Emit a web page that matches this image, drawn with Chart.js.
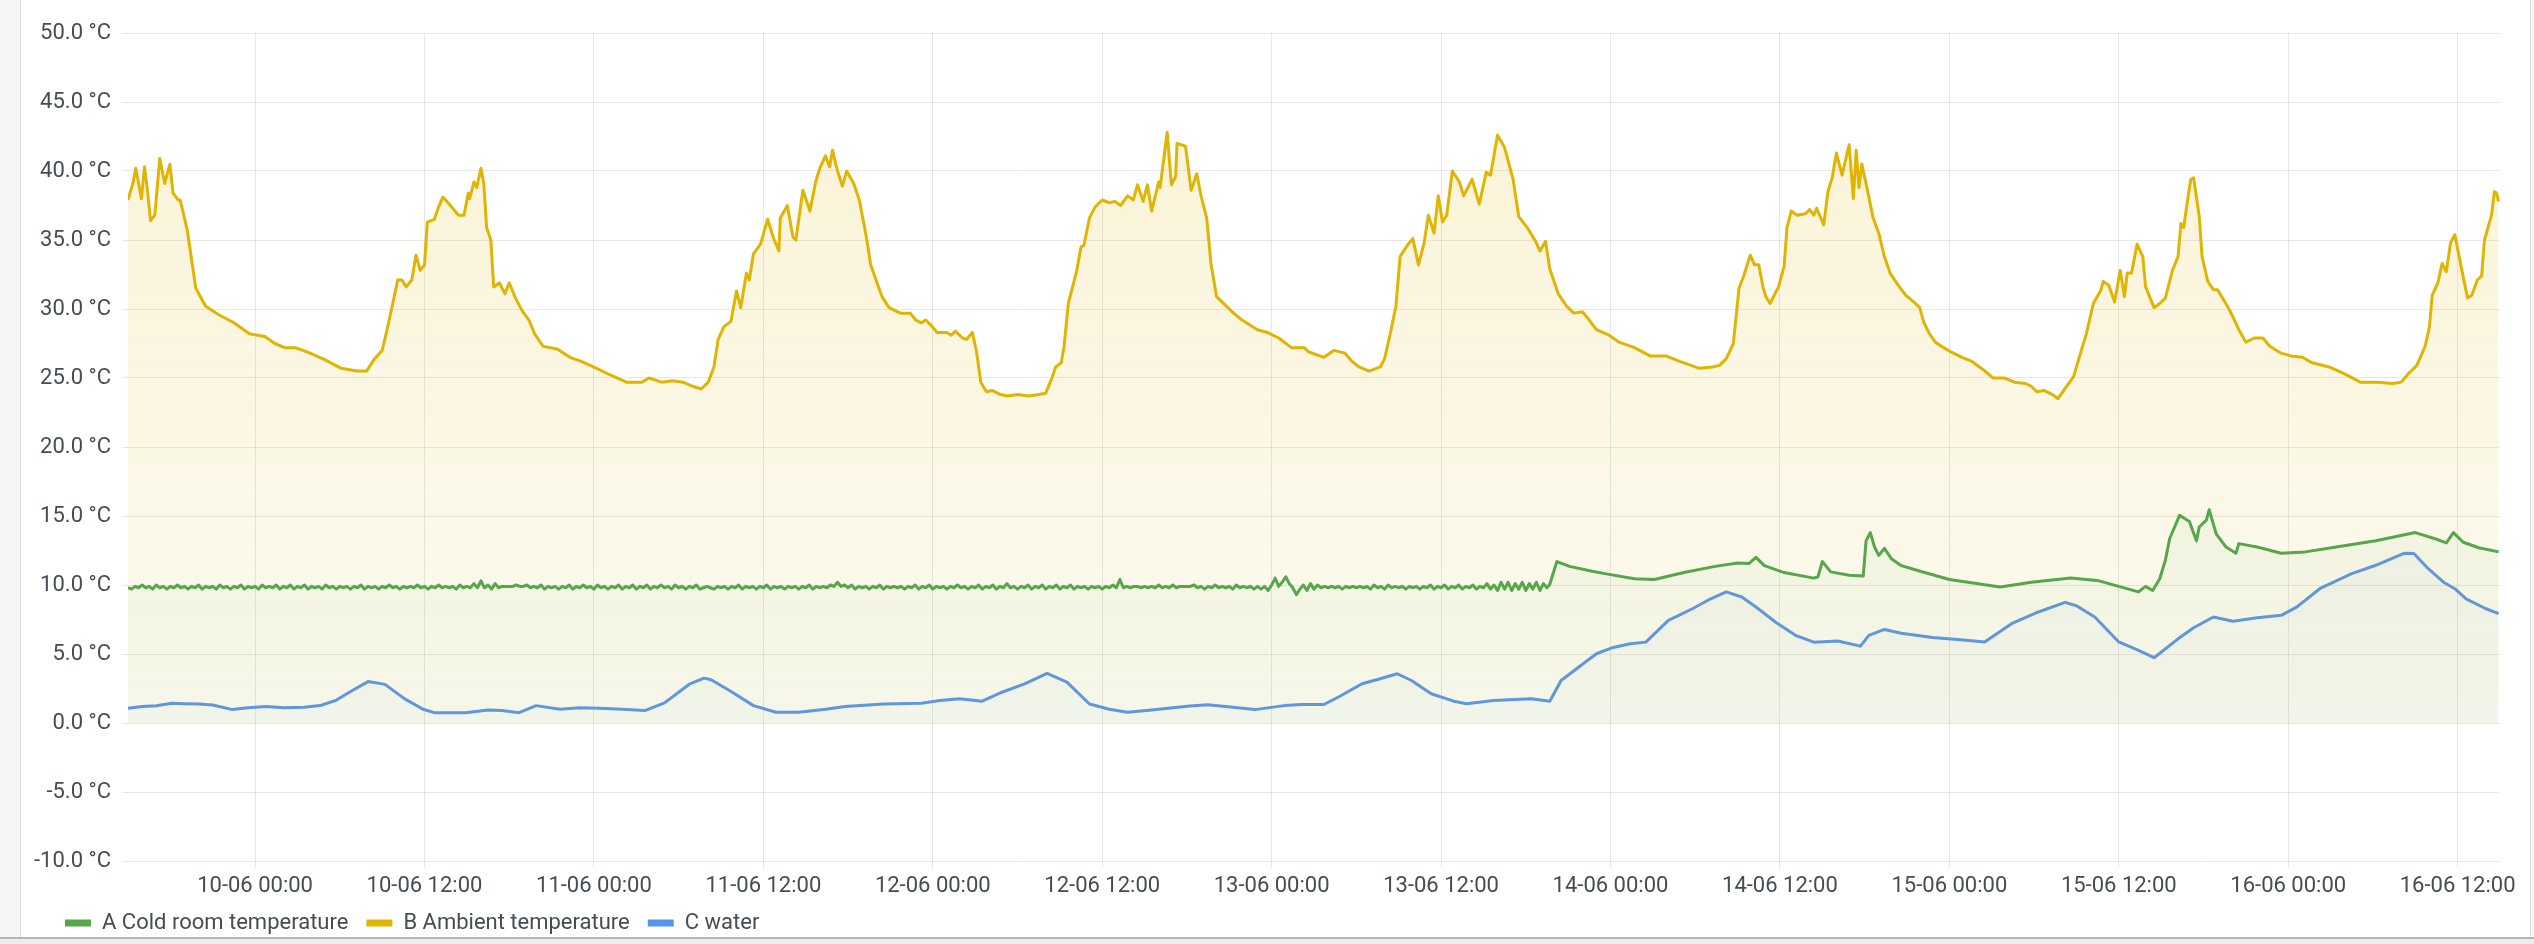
<!DOCTYPE html>
<html>
<head>
<meta charset="utf-8">
<script src="https://cdn.jsdelivr.net/npm/chart.js@4.4.1/dist/chart.umd.min.js"></script>
<style>
html, body { margin: 0; padding: 0; background: #fff; }
body { width: 2534px; height: 944px; position: relative; overflow: hidden; font-family: Roboto, sans-serif; }
.side { position: absolute; left: 0; top: 0; width: 20px; height: 944px; background: #f4f5f5; border-right: 1px solid #dde0e0; }
.edge { position: absolute; left: 2530px; top: 0; width: 4px; height: 944px; background: #f7f7f7; border-left: 1px solid #dde0e0; }
.foot { position: absolute; left: 0; top: 937px; width: 2534px; height: 7px; background: #ececec; border-top: 2px solid #b5b5b5; }
#chart { position: absolute; left: 22px; top: 0; }
</style>
</head>
<body>
<div class="side"></div>
<canvas id="chart" width="2508" height="944"></canvas>
<div class="edge"></div>
<div class="foot"></div>
<script>
// x axis is hours since 09-06 15:00
const tickHours = [9, 21, 33, 45, 57, 69, 81, 93, 105, 117, 129, 141, 153, 165];
const tickLabels = ['10-06 00:00', '10-06 12:00', '11-06 00:00', '11-06 12:00', '12-06 00:00', '12-06 12:00', '13-06 00:00',
    '13-06 12:00', '14-06 00:00', '14-06 12:00', '15-06 00:00', '15-06 12:00', '16-06 00:00', '16-06 12:00'];

// A: cold room, every 15 min until the step on 14-06, then read point by point
const coldStep = 0.25;
const coldEarly = [
    9.8,9.7,9.9,9.8,10.0,9.8,9.9,9.7,10.0,9.8,9.9,9.7,9.9,9.8,10.0,9.8,
    9.9,9.7,9.9,9.8,10.0,9.7,9.9,9.8,9.9,9.7,10.0,9.8,9.9,9.7,9.9,9.8,
    10.0,9.7,9.9,9.8,9.9,9.7,10.0,9.8,9.9,9.8,10.0,9.7,9.9,9.8,10.0,9.7,
    9.9,9.8,10.0,9.7,9.9,9.8,9.9,9.7,10.0,9.8,9.9,9.7,9.9,9.8,9.9,9.7,
    9.9,9.8,10.0,9.7,9.9,9.8,9.9,9.7,9.9,9.8,10.0,9.8,9.9,9.7,9.9,9.8,
    9.9,9.8,10.0,9.8,9.9,9.7,9.9,9.8,10.0,9.8,9.9,9.8,9.9,9.7,10.0,9.8,
    9.9,9.8,10.1,9.8,10.3,9.8,10.0,9.7,10.1,9.8,9.9,9.9,9.9,9.9,10.0,9.9,
    9.9,10.0,9.8,9.9,9.8,10.0,9.7,9.9,9.8,9.9,9.7,9.9,9.8,10.0,9.7,9.9,
    9.8,10.0,9.8,9.9,9.7,10.0,9.8,9.9,9.7,9.9,9.8,10.0,9.7,9.9,9.8,10.0,
    9.7,9.9,9.8,10.0,9.7,9.9,9.8,10.0,9.8,9.9,9.7,10.0,9.8,9.9,9.7,9.9,
    9.8,10.0,9.7,9.8,9.9,9.8,9.7,9.9,9.8,9.9,9.7,9.9,9.8,10.0,9.7,9.9,
    9.8,9.9,9.7,9.9,9.8,10.0,9.7,9.9,9.8,9.9,9.7,9.9,9.8,9.9,9.7,9.9,
    9.8,10.0,9.7,9.9,9.8,9.9,9.8,10.0,9.9,10.2,9.9,10.0,9.8,10.0,9.7,9.9,
    9.8,9.9,9.7,9.9,9.8,10.0,9.7,9.9,9.8,9.9,9.8,9.9,9.7,9.9,9.8,10.0,
    9.7,9.9,9.8,10.0,9.7,9.9,9.8,9.9,9.7,9.9,9.8,10.0,9.8,9.9,9.7,9.9,
    9.8,10.0,9.7,9.9,9.8,10.0,9.7,9.9,9.8,10.1,9.8,9.9,9.7,9.9,9.8,10.0,
    9.7,9.9,9.8,10.0,9.7,9.9,9.8,10.0,9.7,9.9,9.8,10.0,9.7,9.9,9.8,9.9,
    9.7,9.9,9.8,9.9,9.7,9.9,9.8,10.0,9.8,10.4,9.8,9.9,9.8,9.9,9.9,9.8,
    9.9,9.8,9.9,9.8,10.0,9.8,9.9,9.8,10.0,9.8,9.9,9.9,9.9,9.9,10.0,9.8,
    9.9,9.7,9.9,9.8,10.0,9.8,9.9,9.8,9.9,9.7,10.0,9.8,9.9,9.8,9.9,9.7,
    9.9,9.7,9.9,9.6,10.0,10.5,9.9,10.2,10.6,10.1,9.8,9.3,9.7,10.0,9.6,10.1,
    9.7,10.0,9.8,9.9,9.8,9.9,9.8,9.9,9.7,9.9,9.8,9.9,9.8,9.9,9.8,9.9,
    9.7,10.0,9.8,9.9,9.7,10.0,9.8,9.9,9.8,9.9,9.7,9.9,9.8,9.9,9.7,9.9,
    9.8,10.0,9.7,9.9,9.8,10.0,9.7,9.9,9.8,10.0,9.7,9.9,9.8,10.0,9.7,9.9,
    9.8,10.1,9.7,10.0,9.6,10.2,9.7,10.2,9.6,10.1,9.7,10.2,9.6,10.1,9.7,10.2,
    9.6,10.1,9.8
];
const coldLateHours = [100.7, 101.2, 102.1, 103.7, 105, 106.7, 108.1, 110.2, 112.4, 114, 114.8, 115.3, 115.9, 117.3, 119.4, 119.7,
    120, 120.6, 121.9, 122.9, 123.1, 123.4, 123.7, 124, 124.4, 124.9, 125.6, 126.7, 129, 132.6, 134.8, 137.6, 139.6, 141, 142.4,
    142.9, 143.4, 143.9, 144.3, 144.6, 145.3, 146, 146.5, 146.7, 147.2, 147.4, 147.9, 148.6, 149.3, 149.5, 150.8, 152.5, 154.2,
    156.4, 159.2, 162, 163.4, 164.2, 164.7, 165.4, 166.5, 167.9];
const coldLateTemps = [10.05, 11.7, 11.35, 11.0, 10.75, 10.45, 10.4, 10.9, 11.35, 11.6, 11.55, 12.0, 11.4, 10.9, 10.5, 10.6,
    11.7, 10.95, 10.7, 10.65, 13.2, 13.8, 12.75, 12.15, 12.65, 11.9, 11.4, 11.07, 10.4, 9.86, 10.2, 10.5, 10.3, 9.9, 9.5,
    9.9, 9.6, 10.45, 11.8, 13.35, 15.05, 14.6, 13.2, 14.2, 14.7, 15.45, 13.7, 12.75, 12.3, 13.0, 12.75, 12.3, 12.4,
    12.75, 13.2, 13.8, 13.35, 13.05, 13.8, 13.1, 12.7, 12.4];

// B: ambient
const ambientHours = [0, 0.37, 0.55, 0.73, 0.95, 1.17, 1.38, 1.6, 1.9, 2.25, 2.6, 2.97, 3.19, 3.55, 3.7, 4.2, 4.8, 5.5, 6.4, 7.5,
    8.6, 9.7, 10.4, 11.1, 11.85, 12.9, 14, 15.1, 16.2, 16.9, 17.4, 18, 18.35, 18.9, 19.1, 19.4, 19.7, 20.1, 20.4, 20.7,
    21, 21.2, 21.7, 22, 22.3, 22.5, 23, 23.4, 23.8, 24.1, 24.2, 24.5, 24.7, 25, 25.2, 25.4, 25.7, 25.9, 26.3, 26.7,
    27, 27.4, 27.9, 28.4, 28.8, 29.4, 29.9, 30.4, 31.3, 32.1, 33.2, 34.2, 35.3, 36.4, 36.9, 37.8, 38.6, 39.3, 40, 40.6,
    41.1, 41.5, 41.8, 42.2, 42.7, 43.1, 43.4, 43.8, 44, 44.3, 44.8, 45.3, 45.7, 46.1, 46.2, 46.7, 47.1, 47.3, 47.8, 48.3,
    48.7, 49, 49.4, 49.7, 49.9, 50.2, 50.6, 50.9, 51.4, 51.8, 52.3, 52.6, 53.4, 53.9, 54.7, 55.4, 55.8, 56.2, 56.5, 56.9,
    57.3, 58, 58.3, 58.6, 59.1, 59.4, 59.8, 60.1, 60.4, 60.8, 61.2, 61.8, 62.3, 63, 63.8, 64.5, 65, 65.4, 65.7, 66.1,
    66.3, 66.6, 67.2, 67.5, 67.7, 68.1, 68.5, 69, 69.5, 69.9, 70.3, 70.8, 71.2, 71.5, 71.9, 72.2, 72.5, 73, 73.1, 73.6,
    73.9, 74.2, 74.3, 74.9, 75.3, 75.7, 76, 76.4, 76.7, 77.1, 77.5, 78.2, 78.9, 80, 80.7, 81.5, 82.4, 83.3, 83.6, 84.7,
    85.4, 86.2, 86.7, 87.2, 87.9, 88.7, 89, 89.4, 89.8, 90.1, 90.6, 91, 91.4, 91.8, 92.1, 92.5, 92.8, 93.1, 93.4, 93.8,
    94.3, 94.6, 95.2, 95.7, 96.2, 96.5, 97, 97.5, 98.1, 98.5, 99.1, 99.7, 100, 100.4, 100.7, 101.3, 101.9, 102.4, 103, 103.5,
    104, 104.9, 105.6, 106.7, 107.8, 108.9, 109.9, 111.3, 112.2, 112.7, 113.2, 113.7, 114.1, 114.4, 114.9, 115.2, 115.5, 115.8, 116, 116.3,
    116.9, 117.3, 117.5, 117.8, 118.2, 118.8, 119.1, 119.4, 119.6, 120.1, 120.4, 120.7, 121, 121.4, 121.9, 122.2, 122.4, 122.6, 122.8, 123.1,
    123.6, 124, 124.4, 124.8, 125.4, 125.9, 126.5, 126.9, 127.2, 127.6, 128, 128.6, 129.1, 129.9, 130.6, 131.4, 132.1, 132.9, 133.6, 134.4,
    134.8, 135.2, 135.7, 136.3, 136.7, 137.1, 137.8, 138.2, 138.7, 139.2, 139.7, 139.9, 140.3, 140.7, 141.1, 141.4, 141.6, 141.9, 142.3, 142.7,
    142.9, 143.5, 143.9, 144.3, 144.8, 145.2, 145.4, 145.6, 145.8, 146.1, 146.3, 146.7, 146.9, 147.3, 147.7, 148, 148.4, 148.7, 149.1, 149.5,
    150, 150.6, 151.2, 151.7, 152.5, 153.2, 154, 154.7, 155.9, 157, 158.1, 159.3, 160.4, 161, 161.5, 162.1, 162.7, 163, 163.2, 163.6,
    163.9, 164.2, 164.5, 164.8, 165.3, 165.7, 166, 166.4, 166.7, 166.9, 167.4, 167.6, 167.75, 167.9];
const ambientTemps = [37.9, 39.2, 40.2, 39.2, 38.0, 40.3, 38.6, 36.4, 36.8, 40.9, 39.1, 40.5, 38.4, 37.9, 37.9, 35.7, 31.5, 30.2, 29.6, 29.0,
    28.2, 28.0, 27.5, 27.2, 27.2, 26.8, 26.3, 25.7, 25.5, 25.5, 26.3, 27.0, 28.5, 31.1, 32.1, 32.1, 31.6, 32.1, 33.9, 32.8,
    33.2, 36.3, 36.5, 37.4, 38.1, 37.9, 37.3, 36.8, 36.8, 38.4, 38.0, 39.2, 38.8, 40.2, 39.1, 35.9, 35.0, 31.6, 31.9, 31.1,
    31.9, 30.9, 29.9, 29.2, 28.2, 27.3, 27.2, 27.1, 26.5, 26.2, 25.7, 25.2, 24.7, 24.7, 25.0, 24.7, 24.8, 24.7, 24.4, 24.2,
    24.7, 25.8, 27.8, 28.7, 29.1, 31.3, 30.1, 32.6, 32.1, 34.0, 34.7, 36.5, 35.2, 34.2, 36.6, 37.5, 35.2, 35.0, 38.6, 37.1,
    39.2, 40.2, 41.1, 40.3, 41.5, 40.2, 38.9, 40.0, 39.1, 37.9, 35.2, 33.2, 30.9, 30.1, 29.7, 29.7, 29.2, 29.0, 29.2, 28.8,
    28.3, 28.3, 28.1, 28.4, 27.9, 27.8, 28.3, 26.9, 24.7, 24.0, 24.1, 23.8, 23.7, 23.8, 23.7, 23.8, 23.9, 24.9, 25.8, 26.1,
    27.3, 30.4, 32.8, 34.5, 34.6, 36.6, 37.4, 37.9, 37.7, 37.8, 37.5, 38.2, 37.9, 39.0, 37.8, 39.0, 37.1, 39.2, 38.8, 42.8,
    39.0, 39.6, 42.0, 41.8, 38.6, 39.8, 38.2, 36.6, 33.3, 30.9, 30.5, 29.8, 29.2, 28.5, 28.3, 27.9, 27.2, 27.2, 26.9, 26.5,
    27.0, 26.8, 26.2, 25.8, 25.5, 25.8, 26.4, 28.2, 30.2, 33.8, 34.6, 35.1, 33.2, 34.8, 36.8, 35.5, 38.2, 36.3, 36.8, 40.0,
    39.2, 38.2, 39.4, 37.6, 39.9, 39.7, 42.6, 41.7, 39.4, 36.7, 35.9, 34.9, 34.2, 34.9, 32.9, 31.1, 30.2, 29.7, 29.8, 29.2,
    28.5, 28.1, 27.6, 27.2, 26.6, 26.6, 26.2, 25.7, 25.8, 25.9, 26.4, 27.5, 31.5, 32.3, 33.9, 33.2, 33.2, 31.6, 30.9, 30.4,
    31.6, 33.1, 35.9, 37.1, 36.8, 36.9, 37.2, 36.8, 37.3, 36.1, 38.5, 39.5, 41.3, 39.7, 41.9, 38.0, 41.5, 38.8, 40.5, 39.1,
    36.6, 35.5, 33.8, 32.6, 31.7, 31.0, 30.5, 30.1, 29.0, 28.2, 27.6, 27.2, 26.9, 26.5, 26.2, 25.6, 25.0, 25.0, 24.7, 24.6,
    24.4, 24.0, 24.1, 23.8, 23.5, 24.1, 25.1, 26.5, 28.2, 30.4, 31.3, 32.0, 31.7, 30.5, 32.8, 30.9, 32.6, 32.6, 34.7, 33.8,
    31.6, 30.1, 30.4, 30.8, 32.8, 33.8, 36.2, 35.9, 37.4, 39.4, 39.5, 36.7, 33.8, 32.0, 31.4, 31.4, 30.7, 30.2, 29.4, 28.5,
    27.6, 27.9, 27.9, 27.3, 26.8, 26.6, 26.5, 26.1, 25.8, 25.3, 24.7, 24.7, 24.6, 24.7, 25.3, 25.9, 27.3, 28.7, 31.0, 31.9,
    33.3, 32.7, 34.8, 35.4, 32.8, 30.8, 31.0, 32.1, 32.4, 35.0, 36.8, 38.5, 38.4, 37.8];

// C: water
const waterHours = [0, 1, 2, 3.1, 4, 5, 6, 7.4, 8.5, 9.8, 11, 12.5, 13.6, 14.7, 15.8, 17, 18.2, 19.6, 20.9, 21.7,
    23.9, 25.5, 26.5, 27.7, 28.9, 30.6, 32, 33.4, 35, 36.6, 38, 39.8, 40.8, 41.3, 42.6, 44.3, 45.9, 47.5, 49.4, 50.8,
    53.5, 56.2, 57.5, 58.9, 60.5, 61.9, 63.5, 65.1, 66.5, 68.1, 69.5, 70.8, 72.5, 75.2, 76.5, 79.8, 81.9, 83.1, 84.7, 85.8,
    87.4, 88.5, 89.9, 90.9, 92.3, 93.9, 94.8, 96.7, 99.4, 100.7, 101.5, 102.9, 104, 105.1, 106.4, 107.5, 109.1, 110.8, 112.1, 113.2,
    114.3, 115.4, 116.7, 118.1, 119.4, 121.1, 122.7, 123.3, 124.4, 125.6, 127.8, 129.8, 131.5, 133.4, 135.1, 137.2, 138, 139.3, 141, 142.4,
    143.5, 145.2, 146.3, 147.7, 149.1, 150.8, 152.5, 153.6, 155.3, 157.5, 159.2, 161.2, 161.9, 162.8, 164, 164.8, 165.6, 167, 167.9];
const waterTemps = [1.07, 1.2, 1.25, 1.43, 1.4, 1.38, 1.3, 0.97, 1.1, 1.19, 1.1, 1.14, 1.26, 1.63, 2.3, 3.0, 2.8, 1.75, 1.0, 0.75,
    0.75, 0.95, 0.9, 0.75, 1.26, 1.0, 1.1, 1.07, 1.0, 0.9, 1.46, 2.84, 3.25, 3.13, 2.35, 1.26, 0.78, 0.78, 1.0, 1.2,
    1.38, 1.43, 1.63, 1.75, 1.58, 2.23, 2.84, 3.6, 2.96, 1.38, 1.0, 0.78, 0.95, 1.24, 1.33, 0.97, 1.26, 1.34, 1.34, 1.92,
    2.84, 3.15, 3.57, 3.08, 2.12, 1.58, 1.39, 1.63, 1.75, 1.58, 3.08, 4.17, 5.02, 5.45, 5.74, 5.86, 7.44, 8.28, 9.0, 9.5,
    9.13, 8.33, 7.3, 6.35, 5.86, 5.94, 5.57, 6.35, 6.78, 6.5, 6.2, 6.04, 5.87, 7.2, 7.97, 8.74, 8.5, 7.68, 5.87, 5.26,
    4.73, 6.1, 6.9, 7.68, 7.37, 7.63, 7.8, 8.4, 9.78, 10.82, 11.43, 12.3, 12.28, 11.3, 10.2, 9.73, 9.0, 8.28, 7.92];

const coldData = coldEarly.map((t, i) => ({ x: i * coldStep, y: t }))
    .concat(coldLateHours.map((h, i) => ({ x: h, y: coldLateTemps[i] })));
const ambientData = ambientHours.map((h, i) => ({ x: h, y: ambientTemps[i] }));
const waterData = waterHours.map((h, i) => ({ x: h, y: waterTemps[i] }));

// gradient fill from the top of the plot down to 0 °C
function fade(rgb, top, bottom) {
    return ctx => {
        const chart = ctx.chart, area = chart.chartArea;
        if (!area) return 'transparent';
        const g = chart.ctx.createLinearGradient(0, area.top, 0, chart.scales.y.getPixelForValue(0));
        g.addColorStop(0, `rgba(${rgb},${top})`);
        g.addColorStop(1, `rgba(${rgb},${bottom})`);
        return g;
    };
}

const textColor = '#464c54';
const font = { family: 'Roboto', size: 22 };
const gridColor = 'rgba(0,0,0,0.09)';

const line = (label, data, color, rgb, a0, a1) => ({
    label, data, borderColor: color, backgroundColor: fade(rgb, a0, a1), borderWidth: 3,
    pointRadius: 0, tension: 0, fill: 'origin', borderJoinStyle: 'round'
});

// legend sits a bit to the right of the canvas edge, y labels need the full left margin
const legendShift = { id: 'legendShift', afterLayout: c => { c.legend.left += 25; } };

new Chart(document.getElementById('chart'), {
    type: 'line',
    data: {
        datasets: [
            line('A Cold room temperature', coldData, '#56A64B', '86,166,75', 0.1, 0.04),
            line('B Ambient temperature', ambientData, '#E0B400', '224,180,0', 0.17, 0.06),
            line('C water', waterData, '#5794F2', '87,148,242', 0.07, 0.03)
        ]
    },
    plugins: [legendShift],
    options: {
        responsive: false,
        devicePixelRatio: 1,
        animation: false,
        layout: { padding: { left: 0, right: 30, top: 33, bottom: 0 } },
        plugins: {
            tooltip: { enabled: false },
            legend: {
                position: 'bottom', align: 'start',
                labels: {
                    boxWidth: 26, boxHeight: 7, padding: 18, color: textColor, font,
                    generateLabels: chart => chart.data.datasets.map((d, i) => ({
                        text: d.label, fillStyle: d.borderColor, strokeStyle: d.borderColor, lineWidth: 0,
                        hidden: false, datasetIndex: i, fontColor: textColor
                    }))
                }
            }
        },
        scales: {
            x: {
                type: 'linear', min: 0, max: 168,
                afterBuildTicks: s => { s.ticks = tickHours.map(v => ({ value: v })); },
                afterFit: s => { s.height = 33; },
                grid: { color: gridColor, tickLength: 7 },
                border: { display: false },
                ticks: { autoSkip: false, maxRotation: 0, padding: 5, color: textColor, font,
                    callback: v => tickLabels[tickHours.indexOf(v)] }
            },
            y: {
                min: -10, max: 50,
                afterFit: s => { s.width = 106; },
                grid: { color: gridColor, tickLength: 6 },
                border: { display: false },
                ticks: { stepSize: 5, padding: 11, color: textColor, font, callback: v => v.toFixed(1) + ' °C' }
            }
        }
    }
});
</script>
</body>
</html>
